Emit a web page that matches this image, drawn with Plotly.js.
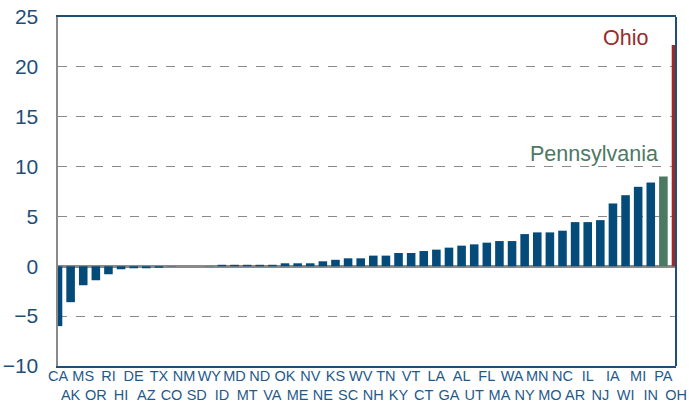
<!DOCTYPE html>
<html>
<head>
<meta charset="utf-8">
<script src="https://cdn.plot.ly/plotly-3.0.1.min.js"></script>
<style>html,body{margin:0;padding:0;background:#fff;}#chart{width:689px;height:402px;}</style>
</head>
<body>
<div id="chart"></div>
<script>
const states = ["CA","AK","MS","OR","RI","HI","DE","AZ","TX","CO","NM","SD","WY","ID","MD","MT","ND","VA","OK","ME","NV","NE","KS","SC","WV","NH","TN","KY","VT","CT","LA","GA","AL","UT","FL","MA","WA","NY","MN","MO","NC","AR","IL","NJ","IA","WI","MI","IN","PA","OH"];
const values = [-6.0,-3.6,-1.9,-1.4,-0.8,-0.3,-0.2,-0.2,-0.15,-0.03,0.0,0.0,0.02,0.15,0.15,0.15,0.15,0.15,0.3,0.3,0.3,0.5,0.65,0.8,0.8,1.07,1.07,1.33,1.33,1.53,1.67,1.87,2.07,2.2,2.37,2.53,2.53,3.23,3.4,3.4,3.57,4.43,4.43,4.63,6.3,7.13,7.97,8.4,9.0,22.2];
const highlight = {"PA":"#4c7963","OH":"#9a2b2b"};
const baseColor = "#054b7a";
const yTicks = [-10,-5,0,5,10,15,20,25];

const idx = states.map((s,i)=>i);
const colors = states.map(s => highlight[s] || baseColor);
const tickText = states.map((s,i)=> i%2===0 ? s : "<br>"+s);

const trace = {
  type:"bar", x: idx, y: values,
  marker:{color: colors},
  hoverinfo:"skip"
};
const frameColor = "#1f4e79";
const layout = {
  width:689, height:402,
  margin:{l:58, r:13, t:17, b:36},
  paper_bgcolor:"#fff", plot_bgcolor:"#fff",
  bargap:0.32,
  showlegend:false,
  font:{family:"Arial, 'Liberation Sans', sans-serif", color:"#1f4e79"},
  xaxis:{
    range:[0,49], tickmode:"array", tickvals: idx, ticktext: tickText,
    tickangle:0, showgrid:false, zeroline:false,
    showline:true, linecolor:frameColor, linewidth:2, mirror:true,
    ticks:"", ticklabelstandoff:-4,
    tickfont:{size:14.5, color:"#1f5a8a", family:"'Liberation Sans Narrow', 'Arial Narrow', Arial, sans-serif"}, fixedrange:true
  },
  yaxis:{
    range:[-10,25], tickmode:"array", tickvals:yTicks,
    showgrid:true, gridcolor:"#8a8a8a", griddash:"dash", gridwidth:1,
    zeroline:true, zerolinecolor:"#8a8a8a", zerolinewidth:2.5,
    showline:true, linecolor:"#8a8a8a", linewidth:2.5,
    ticks:"", ticklabelstandoff:13,
    tickfont:{size:21, color:"#1f4e79"}, fixedrange:true
  },
  shapes:[
    {type:"line", xref:"paper", yref:"paper", x0:1, x1:1, y0:0, y1:1, line:{color:frameColor, width:2}}
  ],
  annotations:[
    {text:"Ohio", xref:"x", yref:"y", x:46.9, y:22.9, xanchor:"right", yanchor:"middle", showarrow:false, font:{size:21.5, color:"#9a2b2b"}},
    {text:"Pennsylvania", xref:"x", yref:"y", x:47.7, y:11.3, xanchor:"right", yanchor:"middle", showarrow:false, font:{size:21.5, color:"#4c7963"}}
  ]
};
Plotly.newPlot("chart",[trace],layout,{displayModeBar:false, staticPlot:true});
</script>
</body>
</html>
